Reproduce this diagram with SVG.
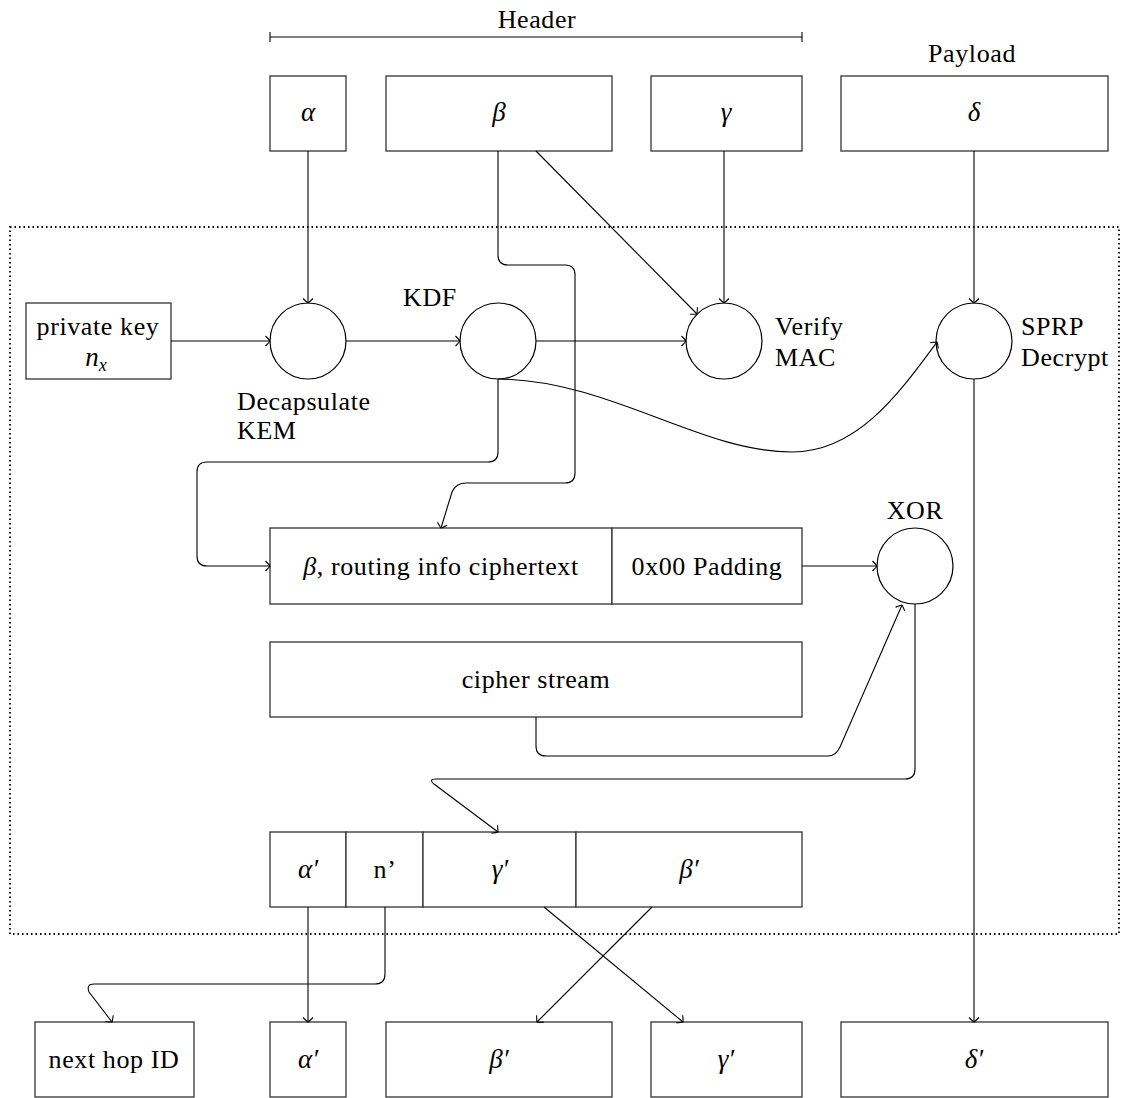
<svg xmlns="http://www.w3.org/2000/svg" width="1122" height="1098" viewBox="0 0 1122 1098">
<defs>
<marker id="arr" viewBox="-6 -6 8 12" markerWidth="8" markerHeight="12" refX="0" refY="0" orient="auto" markerUnits="userSpaceOnUse">
<path d="M -4.5 -5 Q -1 -1.5 0 0 Q -1 1.5 -4.5 5" fill="none" stroke="#000" stroke-width="1.1"/>
</marker>
</defs>
<style>
.box{fill:#fff;stroke:#333;stroke-width:1.3}
.circ{fill:#fff;stroke:#000;stroke-width:1.2}
text{font-family:'Liberation Serif','DejaVu Serif',serif;fill:#000}
.t{font-size:26px;letter-spacing:0.6px}
.m{font-size:27px;font-style:italic}
.c{text-anchor:middle}
.la{fill:none;stroke:#000;stroke-width:1.1;marker-end:url(#arr)}
</style>
<rect width="1122" height="1098" fill="#fff"/>

<g id="frame">
<rect x="10" y="227" width="1109" height="707" fill="none" stroke="#000" stroke-width="1.8" stroke-dasharray="1.5 3" />
</g>

<g id="header">
<line x1="270" y1="37" x2="802" y2="37" stroke="#000" stroke-width="1.1"/>
<line x1="270" y1="32" x2="270" y2="42" stroke="#000" stroke-width="1.1"/>
<line x1="802" y1="32" x2="802" y2="42" stroke="#000" stroke-width="1.1"/>
<text class="t c" x="537" y="28">Header</text>
</g>
<g id="payload-label"><text class="t c" x="972" y="62">Payload</text></g>

<g id="alpha"><rect class="box" x="270" y="76" width="76" height="75"/><text class="m c" x="308" y="121">α</text></g>
<g id="beta"><rect class="box" x="386" y="76" width="226" height="75"/><text class="m c" x="499" y="121">β</text></g>
<g id="gamma"><rect class="box" x="651" y="76" width="151" height="75"/><text class="m c" x="726" y="121">γ</text></g>
<g id="delta"><rect class="box" x="841" y="76" width="267" height="75"/><text class="m c" x="974" y="121">δ</text></g>

<g id="privkey"><rect class="box" x="26" y="303" width="145" height="76"/><text class="t c" x="98" y="335">private key</text><text class="m c" x="96" y="366">n<tspan font-size="18" dy="5">x</tspan></text></g>

<g id="decap"><circle class="circ" cx="308" cy="341" r="38"/><text class="t" x="237" y="410">Decapsulate</text><text class="t" x="237" y="439">KEM</text></g>
<g id="kdf"><circle class="circ" cx="498" cy="341" r="38"/><text class="t c" x="430" y="306">KDF</text></g>
<g id="verify"><circle class="circ" cx="724" cy="341" r="38"/><text class="t" x="775" y="335">Verify</text><text class="t" x="775" y="366">MAC</text></g>
<g id="sprp"><circle class="circ" cx="974" cy="341" r="38"/><text class="t" x="1021" y="335">SPRP</text><text class="t" x="1021" y="366">Decrypt</text></g>

<g id="routing"><rect class="box" x="270" y="528" width="342" height="76"/><text class="t c" x="441" y="575"><tspan font-style="italic">β</tspan>, routing info ciphertext</text></g>
<g id="padding"><rect class="box" x="612" y="528" width="190" height="76"/><text class="t c" x="707" y="575">0x00 Padding</text></g>
<g id="xor"><circle class="circ" cx="915" cy="566" r="38"/><text class="t c" x="915" y="519">XOR</text></g>
<g id="cipher"><rect class="box" x="270" y="642" width="532" height="75"/><text class="t c" x="536" y="688">cipher stream</text></g>

<g id="alpha2"><rect class="box" x="270" y="832" width="76" height="75"/><text class="m c" x="308" y="878">α′</text></g>
<g id="nprime"><rect class="box" x="346" y="832" width="77" height="75"/><text class="t c" x="385" y="878">n’</text></g>
<g id="gamma2"><rect class="box" x="423" y="832" width="153" height="75"/><text class="m c" x="500" y="878">γ′</text></g>
<g id="beta2"><rect class="box" x="576" y="832" width="226" height="75"/><text class="m c" x="689" y="878">β′</text></g>

<g id="nexthop"><rect class="box" x="35" y="1022" width="159" height="75"/><text class="t c" x="114" y="1068">next hop ID</text></g>
<g id="alpha-out"><rect class="box" x="270" y="1022" width="76" height="75"/><text class="m c" x="308" y="1068">α′</text></g>
<g id="beta-out"><rect class="box" x="386" y="1022" width="226" height="75"/><text class="m c" x="499" y="1068">β′</text></g>
<g id="gamma-out"><rect class="box" x="651" y="1022" width="151" height="75"/><text class="m c" x="726" y="1068">γ′</text></g>
<g id="delta-out"><rect class="box" x="841" y="1022" width="267" height="75"/><text class="m c" x="974" y="1068">δ′</text></g>

<g id="connectors">
<path class="la" d="M308,151 V303"/>
<path class="la" d="M498,151 V255 Q498,265 508,265 H565 Q575,265 575,275 V473 Q575,483 565,483 H466 Q456,483 452,492 L441,528"/>
<path class="la" d="M536,151 L697,314"/>
<path class="la" d="M724,151 V303"/>
<path class="la" d="M974,151 V303"/>
<path class="la" d="M171,341 H270"/>
<path class="la" d="M346,341 H460"/>
<path class="la" d="M536,341 H686"/>
<path class="la" d="M498,379 C610,380 700,452 792,452 C858,452 900,392 937,342"/>
<path class="la" d="M498,379 V452 Q498,462 488,462 H207 Q197,462 197,472 V556 Q197,566 207,566 H270"/>
<path class="la" d="M974,379 V1022"/>
<path class="la" d="M802,566 H877"/>
<path class="la" d="M536,717 V746 Q536,756 546,756 H828 Q836,756 840,747 L902,605"/>
<path class="la" d="M915,604 V769 Q915,779 905,779 H436 Q428,779 434,784 L498,832"/>
<path class="la" d="M308,907 V1022"/>
<path class="la" d="M385,907 V974 Q385,984 375,984 H94 Q86,984 89,992 L112,1022"/>
<path class="la" d="M544,907 L683,1022"/>
<path class="la" d="M652,907 L537,1022"/>
</g>
</svg>
